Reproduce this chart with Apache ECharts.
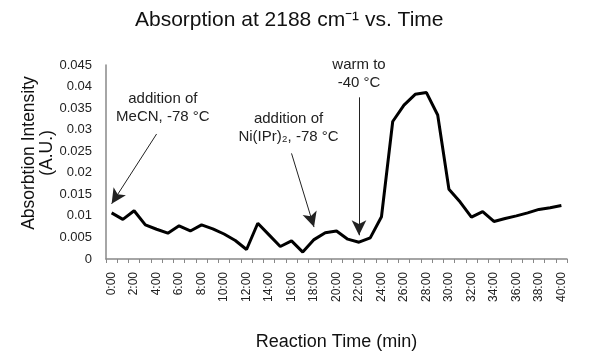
<!DOCTYPE html>
<html>
<head>
<meta charset="utf-8">
<script src="https://cdn.jsdelivr.net/npm/echarts@6/dist/echarts.min.js"></script>
<style>
  html, body { margin: 0; padding: 0; background: #fff; }
  #chart { width: 600px; height: 363px; }
</style>
</head>
<body>
<div id="chart"></div>
<script>
// reaction time, one point per minute
const times = [
  "0:00", "1:00", "2:00", "3:00", "4:00", "5:00", "6:00", "7:00", "8:00", "9:00",
  "10:00", "11:00", "12:00", "13:00", "14:00", "15:00", "16:00", "17:00", "18:00", "19:00",
  "20:00", "21:00", "22:00", "23:00", "24:00", "25:00", "26:00", "27:00", "28:00", "29:00",
  "30:00", "31:00", "32:00", "33:00", "34:00", "35:00", "36:00", "37:00", "38:00", "39:00",
  "40:00"
];
// absorption at 2188 cm-1
const absorption = [
  0.0107, 0.0092, 0.0112, 0.0079, 0.0069, 0.0060, 0.0077, 0.0065, 0.0079, 0.0070,
  0.0058, 0.0043, 0.0022, 0.0083, 0.0056, 0.0029, 0.0042, 0.0016, 0.0045, 0.0061,
  0.0065, 0.0046, 0.0039, 0.0049, 0.0098, 0.0319, 0.0357, 0.0382, 0.0386, 0.0334,
  0.0162, 0.0132, 0.0097, 0.0110, 0.0087, 0.0094, 0.0100, 0.0107, 0.0115, 0.0119,
  0.0124
];
// annotation texts and where they sit (category index, value)
const notes = [
  { text: "addition of\nMeCN, -78 °C", at: [5, 0.0350], shift: -5 },
  { text: "addition of\nNi(IPr)₂, -78 °C", at: [16, 0.0304], shift: -3 },
  { text: "warm to\n-40 °C", at: [22, 0.0429], shift: 0 }
];
const arrows = [
  [[4, 0.0290], [0, 0.0128]],
  [[16, 0.0245], [18, 0.0074]],
  [[22, 0.0375], [22, 0.0055]]
];

const font = "Liberation Sans, Arial, sans-serif";
const chart = echarts.init(document.getElementById("chart"));

const option = {
  animation: false,
  title: {
    text: "Absorption at 2188 cm⁻¹ vs. Time",
    left: 130,
    top: 5,
    textStyle: { fontFamily: font, fontSize: 21, fontWeight: "normal", color: "#111" }
  },
  // y axis name, drawn by hand so it sits where the original has it
  graphic: [
    {
      type: "text",
      x: 38,
      y: 153,
      rotation: Math.PI / 2,
      style: {
        text: "Absorbtion Intensity\n(A.U.)",
        fontFamily: font,
        fontSize: 17.5,
        lineHeight: 18,
        fill: "#111",
        align: "center",
        verticalAlign: "middle"
      }
    }
  ],
  grid: { left: 106, right: 33, top: 65, bottom: 104 },
  xAxis: {
    type: "category",
    data: times,
    name: "Reaction Time (min)",
    nameLocation: "middle",
    nameGap: 74,
    nameTextStyle: { fontFamily: font, fontSize: 18, color: "#111" },
    axisLine: { lineStyle: { color: "#888", width: 1.5 } },
    axisTick: { show: true, interval: 0, length: 4, lineStyle: { color: "#888" } },
    axisLabel: {
      interval: 1,
      rotate: 90,
      margin: 13,
      fontFamily: font,
      fontSize: 12,
      color: "#222"
    }
  },
  yAxis: {
    type: "value",
    min: 0,
    max: 0.045,
    interval: 0.005,
    axisLine: { show: true, lineStyle: { color: "#888", width: 1.5 } },
    axisTick: { show: false },
    splitLine: { show: false },
    axisLabel: { fontFamily: font, fontSize: 13, color: "#222", margin: 14 }
  },
  series: [
    {
      type: "line",
      data: absorption,
      showSymbol: false,
      symbol: "none",
      lineStyle: { color: "#000", width: 3 },
      markLine: {
        silent: true,
        symbol: ["none", "arrow"],
        symbolSize: [11, 15],
        lineStyle: { color: "#222", width: 1, type: "solid" },
        label: { show: false },
        data: arrows.map(a => [{ coord: a[0] }, { coord: a[1] }])
      },
      markPoint: {
        silent: true,
        symbol: "circle",
        symbolSize: 0,
        label: {
          show: true,
          position: "inside",
          fontFamily: font,
          fontSize: 15,
          lineHeight: 18,
          color: "#222",
          align: "center"
        },
        data: notes.map(n => ({
          coord: n.at,
          value: n.text,
          label: { formatter: n.text, offset: [n.shift, 0] }
        }))
      }
    }
  ]
};

chart.setOption(option);
</script>
</body>
</html>
